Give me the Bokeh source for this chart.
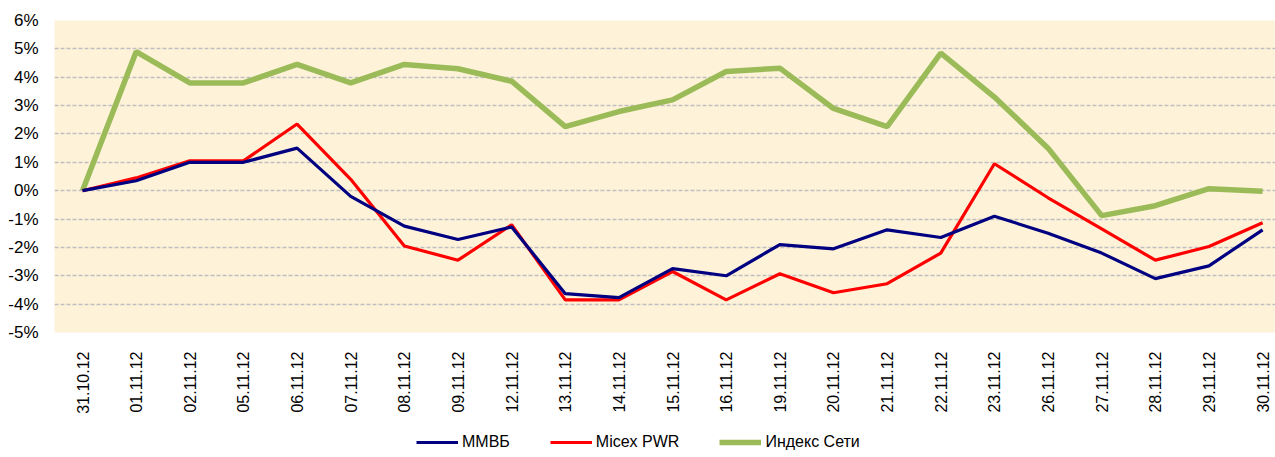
import math
from bokeh.plotting import figure
from bokeh.layouts import column
from bokeh.models import Range1d, FixedTicker, Legend, LegendItem
from bokeh.embed import file_html
from bokeh.resources import INLINE

dates = ["31.10.12", "01.11.12", "02.11.12", "05.11.12", "06.11.12", "07.11.12",
         "08.11.12", "09.11.12", "12.11.12", "13.11.12", "14.11.12", "15.11.12",
         "16.11.12", "19.11.12", "20.11.12", "21.11.12", "22.11.12", "23.11.12",
         "26.11.12", "27.11.12", "28.11.12", "29.11.12", "30.11.12"]

mmvb = [0.0, 0.35, 1.0, 1.0, 1.5, -0.2, -1.25, -1.72, -1.28, -3.63, -3.77, -2.75,
        -3.0, -1.9, -2.05, -1.38, -1.65, -0.9, -1.5, -2.2, -3.1, -2.65, -1.38]
micex_pwr = [0.0, 0.45, 1.05, 1.05, 2.35, 0.4, -1.95, -2.45, -1.2, -3.85, -3.85, -2.85,
             -3.85, -2.93, -3.6, -3.28, -2.2, 0.95, -0.25, -1.35, -2.45, -1.97, -1.13]
index_seti = [0.0, 4.9, 3.8, 3.8, 4.45, 3.8, 4.45, 4.3, 3.86, 2.26, 2.79, 3.2,
              4.2, 4.32, 2.9, 2.26, 4.85, 3.3, 1.5, -0.88, -0.53, 0.07, -0.02]

series_names = ["ММВБ", "Micex PWR", "Индекс Сети"]
series_colors = ["#000080", "#FF0000", "#9BBB59"]

y_ticks = list(range(-5, 7))
y_labels = {v: f"{v}%" for v in y_ticks}

xs = list(range(len(dates)))

p = figure(width=1275, height=420, output_backend="svg", toolbar_location=None,
           x_range=Range1d(-0.522, 22.24), y_range=Range1d(-5, 6))
p.min_border_left = 54
p.min_border_right = 0
p.min_border_top = 20
p.min_border_bottom = 88
p.outline_line_color = None
p.background_fill_color = "#FEF3D9"
p.border_fill_color = "white"

p.xgrid.grid_line_color = None
p.ygrid.grid_line_color = "#BFBFBF"
p.ygrid.grid_line_dash = "4 2"
p.ygrid.grid_line_width = 1.3
p.yaxis.ticker = FixedTicker(ticks=y_ticks)
p.yaxis.major_label_overrides = y_labels
p.yaxis.axis_line_color = None
p.yaxis.major_tick_line_color = None
p.yaxis.minor_tick_line_color = None
p.yaxis.major_label_text_font = "Liberation Sans"
p.yaxis.major_label_text_font_size = "17px"
p.yaxis.major_label_text_color = "black"
p.yaxis.major_label_standoff = 10

p.xaxis.ticker = FixedTicker(ticks=xs)
p.xaxis.major_label_overrides = {i: d for i, d in enumerate(dates)}
p.xaxis.major_label_orientation = math.pi / 2
p.xaxis.axis_line_color = None
p.xaxis.major_tick_line_color = None
p.xaxis.minor_tick_line_color = None
p.xaxis.major_label_text_font = "Liberation Sans"
p.xaxis.major_label_text_font_size = "16px"
p.xaxis.major_label_text_color = "black"
p.xaxis.major_label_standoff = 13

p.line(xs, index_seti, line_color=series_colors[2], line_width=5.5)
p.line(xs, micex_pwr, line_color=series_colors[1], line_width=3.2)
p.line(xs, mmvb, line_color=series_colors[0], line_width=3.2)

# legend-only strip below the chart
lg = figure(width=1275, height=34, output_backend="svg", toolbar_location=None,
            x_axis_type=None, y_axis_type=None,
            x_range=Range1d(0, 1), y_range=Range1d(0, 1))
lg.min_border = 0
lg.min_border_left = 0
lg.min_border_right = 0
lg.min_border_top = 0
lg.min_border_bottom = 0
lg.outline_line_color = None
lg.xgrid.grid_line_color = None
lg.ygrid.grid_line_color = None
widths = [3.2, 3.2, 5.5]
items = []
for name, col, w in zip(series_names, series_colors, widths):
    r = lg.line(x=[-5, -4], y=[-5, -5], line_color=col, line_width=w)
    items.append(LegendItem(label=name, renderers=[r]))

legend = Legend(items=items, orientation="horizontal", location=(362, 2))
legend.background_fill_alpha = 0
legend.border_line_color = None
legend.label_text_font = "Liberation Sans"
legend.label_text_font_size = "16px"
legend.label_text_color = "black"
legend.glyph_width = 42
legend.label_standoff = 4
legend.spacing = 40
legend.margin = 0
legend.padding = 3
lg.add_layout(legend, "center")

layout = column(p, lg, spacing=0)
open("out.html", "w").write(file_html(layout, INLINE))
